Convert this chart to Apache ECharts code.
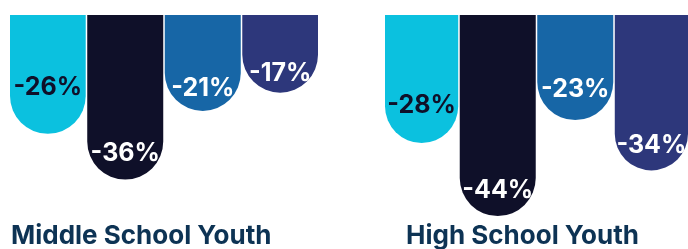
<!DOCTYPE html>
<html>
<head>
<meta charset="utf-8">
<script src="https://cdn.jsdelivr.net/npm/echarts@6/dist/echarts.min.js"></script>
<style>
  html, body { margin: 0; padding: 0; background: #ffffff; }
  #chart { width: 688px; height: 249px; }
</style>
</head>
<body>
<div id="chart"></div>
<script>
// change in percent, one value per group (middle school, high school)
const groups = ['Middle School Youth', 'High School Youth']
const middleSchool = [-26, -36, -21, -17]
const highSchool = [-28, -44, -23, -34]

const seriesColors = ['#0bc1df', '#0f1029', '#1766a6', '#2d377b']
const labelColors = ['#0f1029', '#ffffff', '#ffffff', '#ffffff']
// how far each label sits above the rounded end
const labelLift = [
  [34, 14, 10, 7],
  [25, 13, 18, 12],
]

const chart = echarts.init(document.getElementById('chart'))
const fontFamily = 'Inter, "Open Sans", sans-serif'

const grids = [
  { left: 10, width: 308, top: 15, height: 228.5 },
  { left: 385, width: 308, top: 15, height: 228.5 },
]

const buildSeries = (values, gridIndex) =>
  values.map((v, i) => ({
    type: 'bar',
    xAxisIndex: gridIndex,
    yAxisIndex: gridIndex,
    data: [v],
    barWidth: 76,
    barGap: '2%',
    itemStyle: {
      color: seriesColors[i],
      borderRadius: [0, 0, 38, 38],
    },
    label: {
      show: true,
      position: 'insideBottom',
      distance: labelLift[gridIndex][i],
      formatter: (p) => p.value + '%',
      color: labelColors[i],
      fontFamily: fontFamily,
      fontWeight: 'bold',
      fontSize: 25,
    },
  }))

const option = {
  backgroundColor: '#ffffff',
  animation: false,
  title: groups.map((g, i) => ({
    text: g,
    left: i === 0 ? 11 : 406,
    top: 223,
    padding: 0,
    textStyle: {
      color: '#0d3354',
      fontFamily: fontFamily,
      fontWeight: 'bold',
      fontSize: 26,
    },
  })),
  grid: grids,
  xAxis: grids.map((g, i) => ({
    type: 'category',
    gridIndex: i,
    data: [groups[i]],
    show: false,
  })),
  yAxis: grids.map((g, i) => ({
    type: 'value',
    gridIndex: i,
    min: -50,
    max: 0,
    show: false,
  })),
  series: [...buildSeries(middleSchool, 0), ...buildSeries(highSchool, 1)],
}

chart.setOption(option)
</script>
</body>
</html>
